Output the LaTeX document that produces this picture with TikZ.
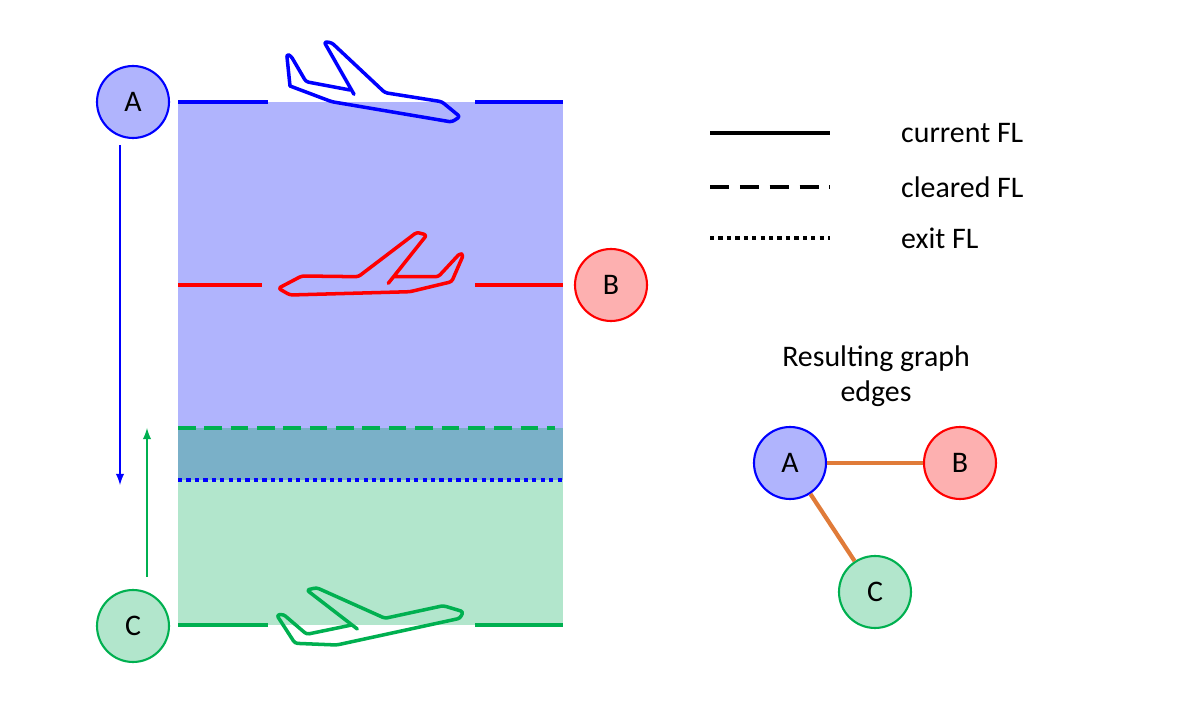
\documentclass[tikz,border=0pt]{standalone}
\usepackage{fontspec}
\setmainfont{Carlito}
\definecolor{aBlue}{HTML}{0000FF}
\definecolor{aFill}{HTML}{B0B4FD}
\definecolor{bRed}{HTML}{FF0000}
\definecolor{bFill}{HTML}{FDB0B0}
\definecolor{cGreen}{HTML}{00B050}
\definecolor{cFill}{HTML}{B2E6CC}
\definecolor{mixFill}{HTML}{7AB0C8}
\definecolor{edgeOrange}{HTML}{E07B39}
\begin{document}
\begin{tikzpicture}[x=0.02cm,y=-0.02cm,font=\fontsize{17}{20}\selectfont,
    ac/.style={circle,draw=#1,line width=1.2pt,minimum size=1.44cm,inner sep=0pt},
    fl/.style={line width=2.4pt},
    plane/.style={line width=2pt,line join=round,line cap=round,rounded corners=1.5pt},
    edge/.style={draw=edgeOrange,line width=2.4pt}]
    \useasboundingbox (0,0) rectangle (1181,709);
    % flight level bands
    \fill[aFill] (178,102) rectangle (563,428);
    \fill[mixFill] (178,428) rectangle (563,480);
    \fill[cFill] (178,480) rectangle (563,625);
    % current levels
    \draw[fl,aBlue] (178,102) -- (268,102) (475,102) -- (563,102);
    \draw[fl,bRed] (178,285) -- (262,285) (475,285) -- (563,285);
    \draw[fl,cGreen] (178,625) -- (268,625) (475,625) -- (563,625);
    \draw[fl,cGreen,dash pattern=on 10pt off 5pt] (178,428) -- (555,428);
    \draw[fl,aBlue,dash pattern=on 2.4pt off 2.4pt] (178,480) -- (563,480);
    % aircraft
    \node[ac=aBlue,fill=aFill] (A) at (133,102) {A};
    \node[ac=bRed,fill=bFill] (B) at (611,285) {B};
    \node[ac=cGreen,fill=cFill] (C) at (133,626) {C};
    \coordinate (aEnd) at (120,485);
    \coordinate (cEnd) at (147,428);
    \draw[aBlue,line width=1.2pt,-latex] (120,145) -- (aEnd);
    \draw[cGreen,line width=1.2pt,-latex] (147,577) -- (cEnd);
    % planes
    \draw[plane,aBlue] (290,86) -- (286.7,54) -- (291,56) -- (306,81.7) -- (350,90);
    \draw[plane,aBlue] (354,94.3) -- (324,41.7) -- (331.7,42.7) -- (385,92.7) -- (441.7,101.7) -- (460,116.7) -- (451.7,122) -- (331.7,101.7) -- (290,86);
    \draw[plane,bRed] (388.3,283.3) -- (426.7,235) -- (416.7,232.3) -- (358.3,276.7) -- (301.7,276) -- (278.3,288.3) -- (290,295) -- (410,291.7) -- (451.7,281.7) -- (463.3,255) -- (460,253.3) -- (438.3,276.7) -- (395,276.7);
    \draw[plane,cGreen] (351.7,625) -- (306.7,634.3) -- (283.3,614.3) -- (276.7,615) -- (295,643.3) -- (336.7,645) -- (460,618.3) -- (463.3,611.7) -- (443.3,605.7) -- (385,618.3) -- (316.7,587.7) -- (306.7,590) -- (357.3,629);
    % legend
    \draw[fl,black] (710,133) -- (830,133) node[right=36pt,anchor=west] (lgCur) {current FL};
    \draw[fl,black,dash pattern=on 11pt off 6pt] (710,187) -- (830,187) node[right=36pt,anchor=west] (lgClr) {cleared FL};
    \draw[fl,black,dash pattern=on 2.4pt off 2.4pt] (710,238) -- (830,238) node[right=36pt,anchor=west] (lgExit) {exit FL};
    % resulting graph
    \node[align=center] (title) at (876,376) {Resulting graph\\edges};
    \node[ac=aBlue,fill=aFill] (gA) at (790,463) {A};
    \node[ac=bRed,fill=bFill] (gB) at (960,463) {B};
    \node[ac=cGreen,fill=cFill] (gC) at (875,592) {C};
    \draw[edge] (gA) -- (gB);
    \draw[edge] (gA) -- (gC);
\end{tikzpicture}
\end{document}
